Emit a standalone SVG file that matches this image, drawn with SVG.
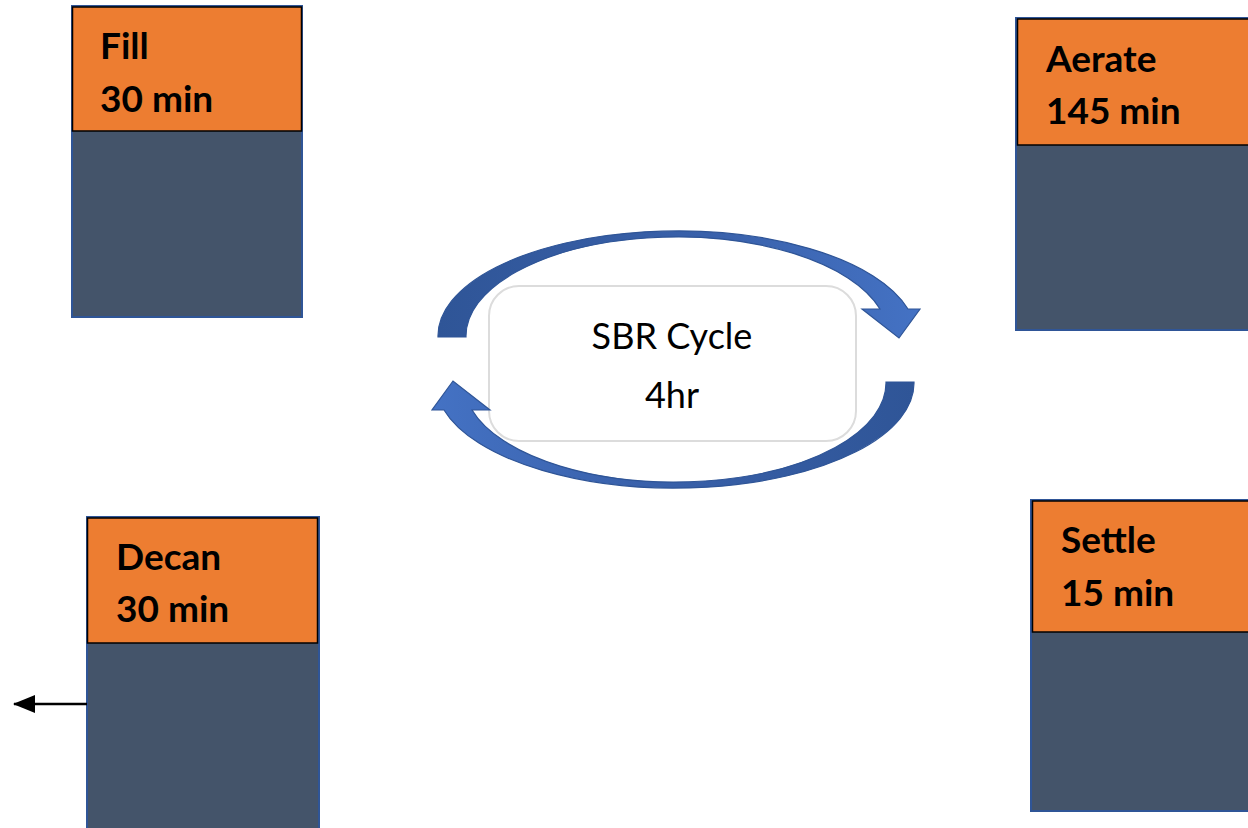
<svg xmlns="http://www.w3.org/2000/svg" width="1248" height="828" viewBox="0 0 1248 828">
  <defs>
    <style>
      .tank { fill: #44546A; stroke: #2F5597; stroke-width: 2; }
      .label { fill: #ED7D31; stroke: #000; stroke-width: 1.5; }
      .ntext { font-family: Lato, "Open Sans", "Liberation Sans", sans-serif; font-weight: bold; font-size: 37px; fill: #000; }
      .ctext { font-family: Lato, "Open Sans", "Liberation Sans", sans-serif; font-size: 36px; fill: #000; text-anchor: middle; }
      .cyc { fill: url(#cg); stroke: #2F5597; stroke-width: 1.2; }
    </style>
    <linearGradient id="cg" x1="438" y1="0" x2="920" y2="0" gradientUnits="userSpaceOnUse">
      <stop offset="0" stop-color="#2F5597"/>
      <stop offset="0.6" stop-color="#3a62ac"/>
      <stop offset="1" stop-color="#4472C4"/>
    </linearGradient>
    <marker id="ah" markerWidth="22" markerHeight="18" refX="21" refY="9" orient="auto" markerUnits="userSpaceOnUse" viewBox="0 0 22 18">
      <path d="M0,0 L22,9 L0,18 Z" fill="#000"/>
    </marker>
  </defs>
  <rect width="1248" height="828" fill="#fff"/>

  <g id="node-fill">
    <rect class="tank" x="72" y="6" width="230" height="311"/>
    <rect class="label" x="72.5" y="7" width="229" height="124"/>
    <text class="ntext" x="100" y="59">Fill</text>
    <text class="ntext" x="100" y="112">30 min</text>
  </g>

  <g id="node-aerate">
    <rect class="tank" x="1016" y="18" width="240" height="312"/>
    <rect class="label" x="1017.5" y="19" width="240" height="126"/>
    <text class="ntext" x="1046" y="72">Aerate</text>
    <text class="ntext" x="1046" y="124">145 min</text>
  </g>

  <g id="node-decan">
    <rect class="tank" x="87" y="517" width="232" height="320"/>
    <rect class="label" x="87.5" y="518" width="230" height="125"/>
    <text class="ntext" x="116" y="570">Decan</text>
    <text class="ntext" x="116" y="622">30 min</text>
  </g>

  <g id="node-settle">
    <rect class="tank" x="1031" y="500" width="230" height="311"/>
    <rect class="label" x="1032.5" y="501" width="230" height="131"/>
    <text class="ntext" x="1061" y="553">Settle</text>
    <text class="ntext" x="1061" y="606">15 min</text>
  </g>

  <g id="node-cycle">
    <rect x="489" y="286" width="367" height="155" rx="30" ry="30" fill="#fff" stroke="#dcdcdc" stroke-width="2"/>
    <text class="ctext" x="672" y="349">SBR Cycle</text>
    <text class="ctext" x="672" y="408">4hr</text>
  </g>

  <g id="connectors">
    <path id="arc-top" class="cyc" d="M 438 337 A 239 105 0 0 1 908 309 L 920 309 L 899 338 L 862 309 L 880 309 A 211 99 0 0 0 466 337 Z"/>
    <path id="arc-bottom" class="cyc" transform="rotate(180 676 359.5)" d="M 438 337 A 239 105 0 0 1 908 309 L 920 309 L 899 338 L 862 309 L 880 309 A 211 99 0 0 0 466 337 Z"/>
    <line x1="87" y1="704" x2="14" y2="704" stroke="#000" stroke-width="2.5" marker-end="url(#ah)"/>
  </g>
</svg>
